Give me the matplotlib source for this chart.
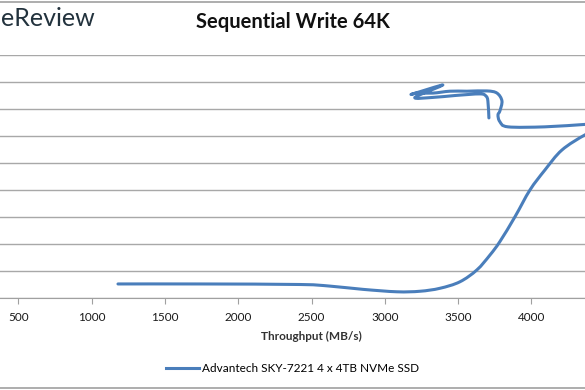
import matplotlib
matplotlib.use("Agg")
import matplotlib.pyplot as plt
from matplotlib.lines import Line2D
from matplotlib.path import Path
from matplotlib.patches import PathPatch

# throughput (MB/s) and latency, in load order
throughput = [1179, 1739, 2421, 2626, 2851, 3083, 3240, 3376, 3512, 3628,
              3717, 3785, 3888, 3990, 4092, 4208, 4365, 4468, 4502, 4433,
              4365, 4092, 3840, 3785, 3772, 3785, 3799, 3765, 3697, 3560,
              3444, 3328, 3219, 3192, 3396, 3205, 3328, 3478, 3649, 3690,
              3703, 3710]
latency = [0.52, 0.52, 0.50, 0.44, 0.32, 0.23, 0.25, 0.36, 0.60, 1.04,
           1.59, 2.09, 3.01, 4.00, 4.74, 5.48, 6.04, 6.26, 6.38, 6.44,
           6.43, 6.34, 6.34, 6.53, 6.78, 6.93, 7.30, 7.59, 7.67, 7.66,
           7.66, 7.59, 7.59, 7.56, 7.89, 7.43, 7.43, 7.50, 7.56, 7.48,
           7.30, 6.67]
x_ticks = [500, 1000, 1500, 2000, 2500, 3000, 3500, 4000]
series_name = "Advantech SKY-7221 4 x 4TB NVMe SSD"
line_color = '#4a7ebb'


def smooth_path(xs, ys, tension=6.0):
    # Excel-style smoothed line: cubic Bezier segments through every point
    verts = [(xs[0], ys[0])]
    codes = [Path.MOVETO]
    n = len(xs)
    for i in range(n - 1):
        x0, y0 = xs[max(i - 1, 0)], ys[max(i - 1, 0)]
        x1, y1 = xs[i], ys[i]
        x2, y2 = xs[i + 1], ys[i + 1]
        x3, y3 = xs[min(i + 2, n - 1)], ys[min(i + 2, n - 1)]
        c1 = (x1 + (x2 - x0) / tension, y1 + (y2 - y0) / tension)
        c2 = (x2 - (x3 - x1) / tension, y2 - (y3 - y1) / tension)
        verts += [c1, c2, (x2, y2)]
        codes += [Path.CURVE4] * 3
    return Path(verts, codes)


plt.rcParams['font.family'] = ['Lato', 'DejaVu Sans']

fig = plt.figure(figsize=(5.85, 3.9), dpi=100)
# the reference is a crop: the axes run past both sides of the picture
ax = fig.add_axes([-0.0937, 0.2359, 1.2526, 0.623])

ax.add_patch(PathPatch(smooth_path(throughput, latency), facecolor='none',
                       edgecolor=line_color, linewidth=2.2,
                       joinstyle='round', capstyle='round'))

ax.set_xlim(0, 5000)
ax.set_ylim(0, 9)
ax.set_xticks(x_ticks)
ax.set_yticks(range(0, 10))
ax.tick_params(axis='x', length=4, color='#a0a0a0', labelsize=8.5,
               labelcolor='#1a1a1a', pad=6)
ax.tick_params(axis='y', length=0, labelleft=False)
ax.grid(axis='y', color='#a8a8a8', linewidth=1)
ax.set_axisbelow(True)
for s in ['top', 'right', 'left']:
    ax.spines[s].set_visible(False)
ax.spines['bottom'].set_color('#a0a0a0')

ax.set_xlabel('Throughput (MB/s)', fontsize=8.5, fontweight='bold',
              color='#333333', labelpad=6)

fig.text(0.5, 0.944, 'Sequential Write 64K', ha='center', va='center',
         fontsize=14.5, fontweight='bold', color='#111111')
fig.text(0.002, 0.953, 'eReview', ha='left', va='center',
         fontsize=18, color='#22323d')

handle = Line2D([], [], color=line_color, linewidth=2.2)
ax.legend([handle], [series_name], loc='center', bbox_to_anchor=(0.5, 0.054),
          bbox_transform=fig.transFigure, frameon=False, fontsize=8.5,
          handlelength=2.8, handletextpad=0.2)

# chart frame lines at the top and bottom of the crop
fig.add_artist(Line2D([0, 1], [0.995, 0.995], transform=fig.transFigure,
                      color='#a0a0a0', linewidth=1.2))
fig.add_artist(Line2D([0, 1], [0.006, 0.006], transform=fig.transFigure,
                      color='#a0a0a0', linewidth=1.2))

fig.savefig('out.png', dpi=100)
